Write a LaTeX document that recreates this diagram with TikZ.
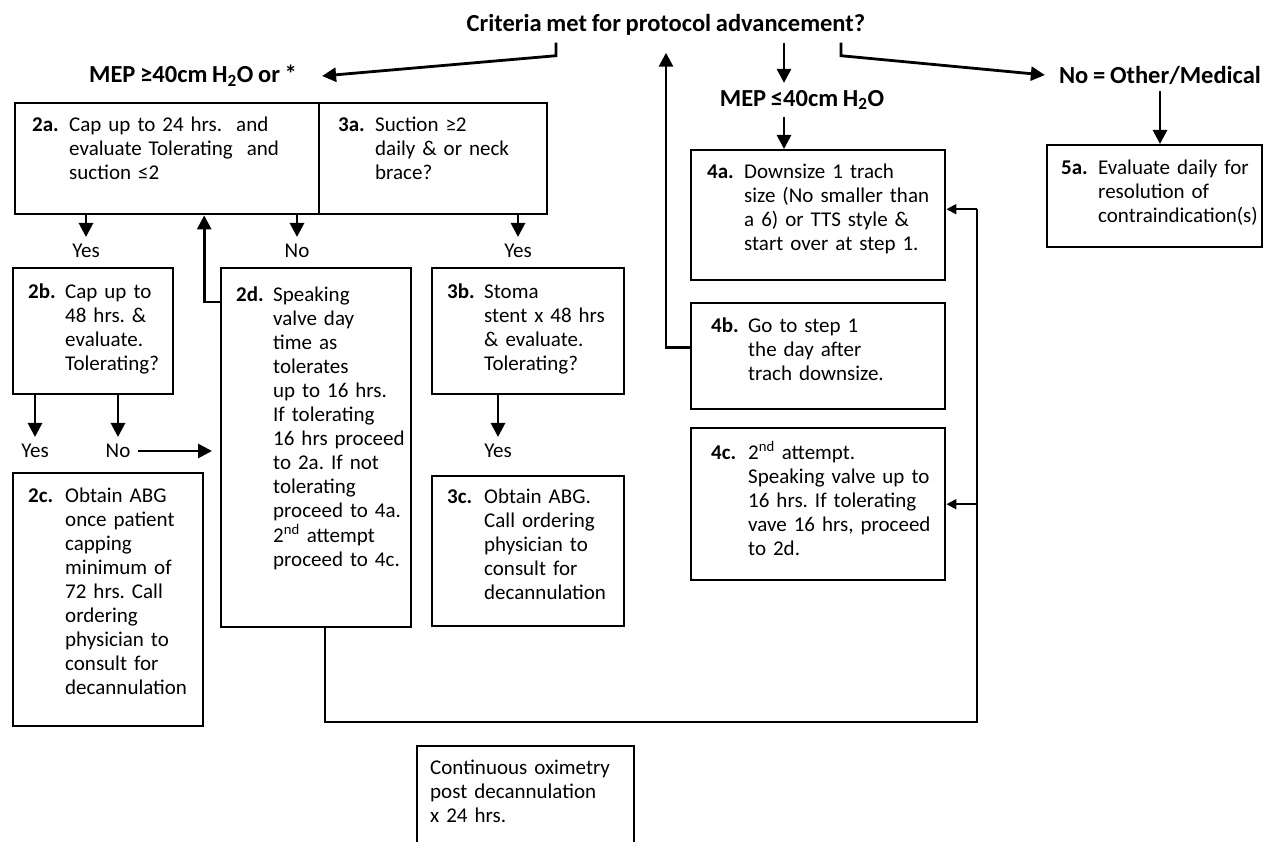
\documentclass[tikz,border=0pt]{standalone}
\usepackage{fontspec}
\setmainfont{Carlito}[WordSpace=0.85]
\usetikzlibrary{arrows.meta,positioning}
\tikzset{
	stepbox/.style={draw, line width=2.4pt, anchor=north west, inner ysep=0pt, align=left},
	head/.style={font=\fontsize{24.5}{28}\selectfont\bfseries, inner sep=7pt},
	answer/.style={inner sep=7pt},
	arr/.style={-{Triangle[length=14pt,width=14pt]}, line width=2.8pt},
	thinarr/.style={-{Triangle[length=10pt,width=10pt]}, line width=2pt}
}
\newcommand{\steptext}[2]{\makebox[37pt][l]{\bfseries #1}\begin{tabular}[t]{@{}l@{}}#2\end{tabular}}

\begin{document}
\frenchspacing
\begin{tikzpicture}[x=1pt, y=-1pt, font=\fontsize{21}{24}\selectfont]
\useasboundingbox (0,0) rectangle (1264,842);
\node[head] (crit) at (666,25) {Criteria met for protocol advancement?};
\node[head] (mepA) at (193,76) {MEP ≥40cm H\textsubscript{2}O or *};
\node[head] (mepB) at (802,100) {MEP ≤40cm H\textsubscript{2}O};
\node[head] (other) at (1160,75) {No = Other/Medical};
\node[stepbox, inner xsep=17pt, text width=270pt, text height=28pt, text depth=83pt] (s2a) at (14,102) {\steptext{2a.}{Cap up to 24 hrs.\ \ and\\evaluate Tolerating\ \ and\\suction ≤2}};
\node[stepbox, inner xsep=19pt, text width=190pt, text height=28pt, text depth=83pt] (s3a) at (318,102) {\steptext{3a.}{Suction ≥2\\daily \& or neck\\brace?}};
\node[stepbox, inner xsep=15pt, text width=130pt, text height=30pt, text depth=96pt] (s2b) at (12,267) {\steptext{2b.}{Cap up to\\48 hrs. \&\\evaluate.\\Tolerating?}};
\node[stepbox, inner xsep=15pt, text width=160pt, text height=29pt, text depth=224pt] (s2c) at (12,472) {\steptext{2c.}{Obtain ABG\\once patient\\capping\\minimum of\\72 hrs. Call\\ordering\\physician to\\consult for\\decannulation}};
\node[stepbox, inner xsep=15pt, text width=160pt, text height=33pt, text depth=326pt] (s2d) at (220,267) {\steptext{2d.}{Speaking\\valve day\\time as\\tolerates\\up to 16 hrs.\\If tolerating\\16 hrs proceed\\to 2a. If not\\tolerating\\proceed to 4a.\\2\textsuperscript{nd} attempt\\proceed to 4c.}};
\node[stepbox, inner xsep=15pt, text width=162pt, text height=30pt, text depth=96pt] (s3b) at (431,267) {\steptext{3b.}{Stoma\\stent x 48 hrs\\\& evaluate.\\Tolerating?}};
\node[stepbox, inner xsep=15pt, text width=162pt, text height=27pt, text depth=123pt] (s3c) at (431,475) {\steptext{3c.}{Obtain ABG.\\Call ordering\\physician to\\consult for\\decannulation}};
\node[stepbox, inner xsep=16pt, text width=222pt, text height=28pt, text depth=102pt] (s4a) at (690,149) {\steptext{4a.}{Downsize 1 trach\\size (No smaller than\\a 6) or TTS style \&\\start over at step 1.}};
\node[stepbox, inner xsep=20pt, text width=214pt, text height=29pt, text depth=77pt] (s4b) at (690,302) {\steptext{4b.}{Go to step 1\\the day after\\trach downsize.}};
\node[stepbox, inner xsep=20pt, text width=214pt, text height=31pt, text depth=121pt] (s4c) at (690,427) {\steptext{4c.}{2\textsuperscript{nd} attempt.\\Speaking valve up to\\16 hrs. If tolerating\\vave 16 hrs, proceed\\to 2d.}};
\node[stepbox, inner xsep=14pt, text width=187pt, text height=29pt, text depth=73pt] (s5a) at (1046,144) {\steptext{5a.}{Evaluate daily for\\resolution of\\contraindication(s)}};
\node[stepbox, inner xsep=13pt, text width=191pt, text height=28pt, text depth=97pt] (oxi) at (416,745) {\begin{tabular}[t]{@{}l@{}}Continuous oximetry\\post decannulation\\x 24 hrs.\end{tabular}};
\node[answer] (yesA) at (86,251) {Yes};
\node[answer] (noA) at (297,251) {No};
\node[answer] (yesB) at (518,251) {Yes};
\node[answer] (yesC) at (35,451) {Yes};
\node[answer] (noB) at (118,451) {No};
\node[answer] (yesD) at (498,451) {Yes};
\coordinate (bend) at (977,722);
\draw[arr] ([xshift=-110pt]crit.south) -- ++(0,13) -- ([xshift=18pt]mepA.east);
\draw[arr] ([xshift=175pt]crit.south) -- ++(0,13) -- ([xshift=-7pt]other.west);
\draw[arr] ([xshift=118pt]crit.south) -- ([xshift=-18pt]mepB.north);
\draw[arr] ([xshift=-18pt]mepB.south) -- ([xshift=-18pt]mepB.south |- s4a.north);
\draw[arr] (other.south) -- (other.south |- s5a.north);
\draw[arr, shorten >=10pt] ([yshift=9pt]s4b.west) -| (crit.south);
\draw[arr] (yesA.north |- s2a.south) -- (yesA.north);
\draw[arr] (noA.north |- s2a.south) -- (noA.north);
\draw[arr] (yesB.north |- s3a.south) -- (yesB.north);
\draw[arr] ([yshift=-35pt]s2d.north west) -| ([xshift=37pt]s2a.south);
\draw[arr] (yesC.north |- s2b.south) -- (yesC.north);
\draw[arr] (noB.north |- s2b.south) -- (noB.north);
\draw[arr, shorten >=8pt] (noB.east) -- (noB.east -| s2d.west);
\draw[arr] (yesD.north |- s3b.south) -- (yesD.north);
\draw[line width=2pt] ([xshift=9pt]s2d.south) |- (bend) -- ([yshift=6pt]bend |- s4a.east);
\draw[thinarr] ([yshift=6pt]bend |- s4a.east) -- ([yshift=6pt]s4a.east);
\draw[thinarr] (bend |- s4c.east) -- (s4c.east);
\end{tikzpicture}
\end{document}
